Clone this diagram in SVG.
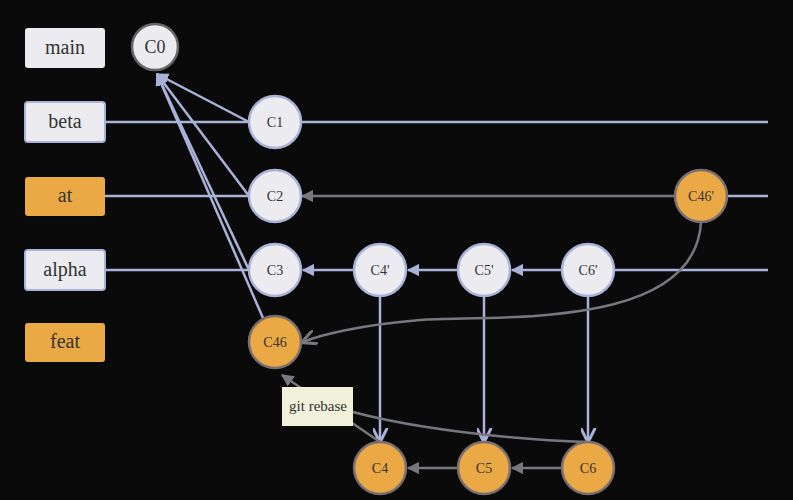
<svg xmlns="http://www.w3.org/2000/svg" width="793" height="500" viewBox="0 0 793 500">
<style>
.lbl{stroke:#a9b2d8;stroke-width:2}
.t{font-family:"Liberation Serif",serif;fill:#333;text-anchor:middle;dominant-baseline:central}
.w{fill:#ececf0}.o{fill:#eaa945}
.c{stroke:#a9b2d8;stroke-width:2.5}
.c0{stroke:#666;stroke-width:2.5}
.co{stroke:#7a6f70;stroke-width:2.5}
.e{stroke:#a9b2d8;stroke-width:2.5;fill:none}
.g{stroke:#77777f;stroke-width:2.5;fill:none}
</style>
<defs>
<marker id="a" viewBox="0 0 10 10" refX="9" refY="5" markerWidth="5" markerHeight="5" orient="auto"><path d="M0,0L10,5L0,10z" fill="#a9b2d8"/></marker>
<marker id="v" viewBox="0 0 10 10" refX="9" refY="5" markerWidth="6" markerHeight="6" orient="auto"><path d="M0,0L10,5L0,10" fill="none" stroke="#a9b2d8" stroke-width="2"/></marker>
<marker id="ga" viewBox="0 0 10 10" refX="9" refY="5" markerWidth="5" markerHeight="5" orient="auto"><path d="M0,0L10,5L0,10z" fill="#77777f"/></marker>
<marker id="gv" viewBox="0 0 10 10" refX="9" refY="5" markerWidth="6" markerHeight="6" orient="auto"><path d="M0,0L10,5L0,10" fill="none" stroke="#77777f" stroke-width="2"/></marker>
</defs>
<rect width="793" height="500" fill="#0b0a0a"/>
<g id="connectors">
<line class="e" x1="105" y1="122" x2="768" y2="122"/>
<line class="e" x1="105" y1="196" x2="249" y2="196"/>
<line class="e" x1="727" y1="196" x2="768" y2="196"/>
<line class="e" x1="105" y1="270" x2="249" y2="270"/>
<line class="e" x1="614" y1="270" x2="768" y2="270"/>
<line class="g" x1="675" y1="196" x2="302" y2="196" marker-end="url(#ga)"/>
<line class="e" x1="354" y1="270" x2="303" y2="270" marker-end="url(#a)"/>
<line class="e" x1="458" y1="270" x2="408" y2="270" marker-end="url(#a)"/>
<line class="e" x1="562" y1="270" x2="512" y2="270" marker-end="url(#a)"/>
<line class="e" x1="249" y1="122" x2="157" y2="74" marker-end="url(#a)"/>
<line class="e" x1="249" y1="196" x2="157" y2="74" marker-end="url(#a)"/>
<line class="e" x1="249" y1="270" x2="157" y2="74" marker-end="url(#a)"/>
<line class="e" x1="263" y1="318" x2="157" y2="74" marker-end="url(#a)"/>
<line class="e" x1="380" y1="296" x2="380" y2="441" marker-end="url(#v)"/>
<line class="e" x1="484" y1="296" x2="484" y2="441" marker-end="url(#v)"/>
<line class="e" x1="588" y1="296" x2="588" y2="441" marker-end="url(#v)"/>
<line class="g" x1="458" y1="468" x2="408" y2="468" marker-end="url(#ga)"/>
<line class="g" x1="562" y1="468" x2="512" y2="468" marker-end="url(#ga)"/>
<path class="g" d="M701,222 C695,330 500,315 420,320 C360,325 320,335 303,342" marker-end="url(#gv)"/>
<path class="g" d="M380,442 L282,375" marker-end="url(#ga)"/>
<path class="g" d="M588,442 C520,440 420,430 353,412"/>
</g>
<g id="main"><rect class="w" x="25" y="28" width="80" height="40" rx="3"/><text class="t" x="65" y="47" font-size="20">main</text></g>
<g id="beta"><rect class="w lbl" x="25" y="102" width="80" height="40" rx="3"/><text class="t" x="65" y="121" font-size="20">beta</text></g>
<g id="at"><rect class="o" x="25" y="177" width="80" height="39" rx="3"/><text class="t" x="65" y="195" font-size="20">at</text></g>
<g id="alpha"><rect class="w lbl" x="25" y="250" width="80" height="40" rx="3"/><text class="t" x="65" y="269" font-size="20">alpha</text></g>
<g id="feat"><rect class="o" x="25" y="323" width="80" height="39" rx="3"/><text class="t" x="65" y="341" font-size="20">feat</text></g>
<g id="C0"><circle class="w c0" cx="155" cy="47" r="23"/><text class="t" x="155" y="47" font-size="18">C0</text></g>
<g id="C1"><circle class="w c" cx="275" cy="122" r="26"/><text class="t" x="275" y="122" font-size="14">C1</text></g>
<g id="C2"><circle class="w c" cx="275" cy="196" r="26"/><text class="t" x="275" y="196" font-size="14">C2</text></g>
<g id="C3"><circle class="w c" cx="275" cy="270" r="26"/><text class="t" x="275" y="270" font-size="14">C3</text></g>
<g id="C46"><circle class="o co" cx="275" cy="342" r="26"/><text class="t" x="275" y="342" font-size="14">C46</text></g>
<g id="C4p"><circle class="w c" cx="380" cy="270" r="26"/><text class="t" x="380" y="270" font-size="14">C4'</text></g>
<g id="C5p"><circle class="w c" cx="484" cy="270" r="26"/><text class="t" x="484" y="270" font-size="14">C5'</text></g>
<g id="C6p"><circle class="w c" cx="588" cy="270" r="26"/><text class="t" x="588" y="270" font-size="14">C6'</text></g>
<g id="C46p"><circle class="o co" cx="701" cy="196" r="26"/><text class="t" x="701" y="196" font-size="14">C46'</text></g>
<g id="C4"><circle class="o co" cx="380" cy="468" r="26"/><text class="t" x="380" y="468" font-size="14">C4</text></g>
<g id="C5"><circle class="o co" cx="484" cy="468" r="26"/><text class="t" x="484" y="468" font-size="14">C5</text></g>
<g id="C6"><circle class="o co" cx="588" cy="468" r="26"/><text class="t" x="588" y="468" font-size="14">C6</text></g>
<g id="rebase"><rect x="282" y="387" width="71" height="39" fill="#f1f1db"/><text class="t" x="318" y="406" font-size="15">git rebase</text></g>
</svg>
